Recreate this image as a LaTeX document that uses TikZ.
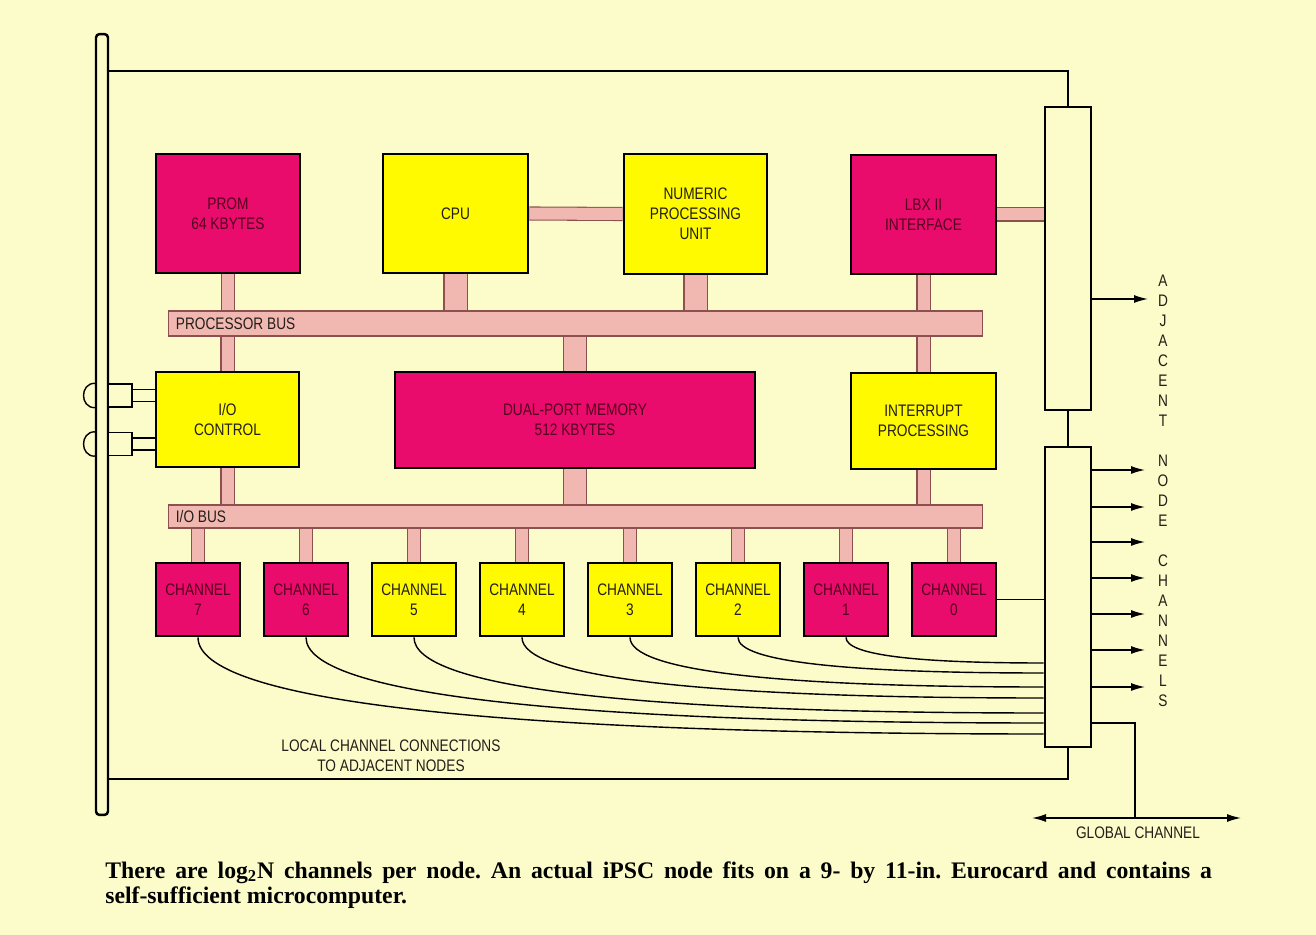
\documentclass[tikz,border=0pt]{standalone}
\usepackage{fontspec}
\setmainfont{Liberation Serif}
\newfontfamily\cond[FakeStretch=0.82]{Liberation Sans}
\usetikzlibrary{arrows.meta,backgrounds,calc}

\definecolor{paper}{RGB}{252,252,202}
\definecolor{magbox}{RGB}{234,12,108}
\definecolor{yelbox}{RGB}{255,250,0}
\definecolor{busfill}{RGB}{241,184,178}
\definecolor{busline}{RGB}{140,80,80}
\definecolor{magtext}{RGB}{85,0,30}
\definecolor{ink}{RGB}{35,30,25}

\tikzset{
  unit/.style={draw=black, line width=1.6pt, inner sep=0pt, align=center,
    font=\cond\fontsize{9.5}{11.4}\selectfont},
  magunit/.style={unit, fill=magbox, text=magtext},
  yelunit/.style={unit, fill=yelbox, text=ink},
  bus/.style={draw=busline, line width=0.6pt, fill=busfill, inner sep=0pt},
  stub/.style={draw=busline, line width=0.6pt, double=busfill, double distance=#1},
  stub/.default=0.24cm,
  conn/.style={draw=black, line width=1.6pt, fill=paper, inner sep=0pt},
  board/.style={line width=1.6pt},
  wire/.style={line width=0.8pt},
  lbl/.style={font=\cond\fontsize{9.5}{11.4}\selectfont, text=ink, inner sep=0pt, align=center},
  >={Latex[length=2.8mm,width=1.6mm]},
}

\begin{document}
\begin{tikzpicture}[x=0.02cm, y=-0.02cm]
	\useasboundingbox (0,0) rectangle (1316,935);
	\begin{scope}[on background layer]
		\fill[paper] (0,0) rectangle (1316,935);
	\end{scope}

	% front panel and connectors
	\node[draw, line width=1.4pt, rounded corners=2pt, fill=paper, inner sep=0pt,
		minimum width=0.24cm, minimum height=15.62cm] (panel) at (102,424.5) {};
	\node[conn, minimum width=0.92cm, minimum height=6.06cm] (upbox) at (1068,258.5) {};
	\node[conn, minimum width=0.92cm, minimum height=6cm] (lowbox) at (1068,597) {};

	% processor section
	\node[magunit, minimum width=2.88cm, minimum height=2.38cm] (prom) at (228,213.5) {PROM\\64 KBYTES};
	\node[yelunit, minimum width=2.9cm, minimum height=2.38cm] (cpu) at (455.5,213.5) {CPU};
	\node[yelunit, minimum width=2.86cm, minimum height=2.4cm] (npu) at (695.5,214) {NUMERIC\\PROCESSING\\UNIT};
	\node[magunit, minimum width=2.9cm, minimum height=2.38cm] (lbx) at (923.5,214.5) {LBX II\\INTERFACE};
	\node[bus, minimum width=16.3cm, minimum height=0.5cm] (pbus) at (575.5,323.5) {};
	\node[lbl, anchor=west] (pbuslab) at ([xshift=0.16cm]pbus.west) {PROCESSOR BUS};

	\node[yelunit, minimum width=2.86cm, minimum height=1.9cm] (io) at (227.5,419.5) {I/O\\CONTROL};
	\node[magunit, minimum width=7.2cm, minimum height=1.92cm] (mem) at (575,420) {DUAL-PORT MEMORY\\512 KBYTES};
	\node[yelunit, minimum width=2.9cm, minimum height=1.92cm] (irq) at (923.5,421) {INTERRUPT\\PROCESSING};
	\node[bus, minimum width=16.3cm, minimum height=0.46cm] (iobus) at (575.5,516.5) {};
	\node[lbl, anchor=west] (iobuslab) at ([xshift=0.16cm]iobus.west) {I/O BUS};

	% channels
	\foreach \c/\kind in {7/magunit,6/magunit,5/yelunit,4/yelunit,3/yelunit,2/yelunit,1/magunit,0/magunit}
		\node[\kind, minimum width=1.68cm, minimum height=1.46cm] (ch\c) at ({954-108*\c},599.5) {CHANNEL\\\c};

	% bus stubs
	\begin{scope}[on background layer]
		\draw[stub] (prom.south) -- (prom.south |- pbus.north);
		\draw[stub=0.44cm] (cpu.south) -- (cpu.south |- pbus.north);
		\draw[stub=0.44cm] (npu.south) -- (npu.south |- pbus.north);
		\draw[stub] (lbx.south) -- (lbx.south |- pbus.north);
		\draw[stub] (io.north) -- (io.north |- pbus.south);
		\draw[stub=0.44cm] (mem.north) -- (mem.north |- pbus.south);
		\draw[stub] (irq.north) -- (irq.north |- pbus.south);
		\draw[stub] (io.south) -- (io.south |- iobus.north);
		\draw[stub=0.44cm] (mem.south) -- (mem.south |- iobus.north);
		\draw[stub] (irq.south) -- (irq.south |- iobus.north);
		\draw[stub] (cpu.east) -- (npu.west);
		\draw[stub] (lbx.east) -- (upbox.west |- lbx.east);
		\foreach \c in {0,...,7}
			\draw[stub] (ch\c.north) -- (ch\c.north |- iobus.south);
	\end{scope}

	% board outline
	\draw[board] (panel.east |- 0,71) -- (upbox.north |- 0,71) -- (upbox.north);
	\draw[board] (upbox.south) -- (lowbox.north);
	\draw[board] (lowbox.south) -- (lowbox.south |- 0,779) -- (panel.east |- 0,779);

	% I/O jacks
	\foreach \j/\y in {1/395.5,2/444} {
		\node[draw, line width=0.8pt, fill=paper, inner sep=0pt, minimum width=0.48cm,
			minimum height=0.46cm] (jack\j) at (120,\y) {};
		\draw[wire] (panel.west |- jack\j.north) .. controls +(-15,0) and +(-15,0) .. (panel.west |- jack\j.south);
		\path (jack\j.east) ++(0,-6) coordinate (j\j a) (jack\j.east) ++(0,6) coordinate (j\j b);
		\draw[wire] (j\j a) -- (j\j a -| io.west);
		\draw[wire] (j\j b) -- (j\j b -| io.west);
	}

	% local channel connections
	\draw[wire] (ch0.east) -- (lowbox.west |- ch0.east);
	\foreach \c/\yk in {1/663,2/673,3/687,4/698,5/713,6/723,7/734} {
		\pgfmathsetmacro\dy{0.65*(\yk-636)}
		\pgfmathsetmacro\dx{-0.65*(91+108*\c)}
		\draw[wire] (ch\c.south) .. controls +(0,\dy) and +(\dx,0) .. (lowbox.west |- 0,\yk);
	}
	\node[lbl] (loclab) at (391,756) {LOCAL CHANNEL CONNECTIONS\\TO ADJACENT NODES};

	% node channels
	\coordinate (adj) at (1148,299);
	\draw[wire, ->] (upbox.east |- adj) -- (adj);
	\foreach \y [count=\i] in {470,507,542,578,614,650,687} {
		\coordinate (nc\i) at (1145,\y);
		\draw[wire, ->] (lowbox.east |- nc\i) -- (nc\i);
	}
	\node[lbl] (chanlab) at (1163,491)
		{A\\D\\J\\A\\C\\E\\N\\T\\[11.4pt]N\\O\\D\\E\\[11.4pt]C\\H\\A\\N\\N\\E\\L\\S};

	% global channel
	\coordinate (gl) at (1032,818);
	\coordinate (gr) at (1241,818);
	\draw[wire, <->] (gl) -- (gr);
	\draw[wire] ([yshift=-2.52cm]lowbox.east) -| (gl -| 1135,0);
	\node[lbl] (globlab) at (1138,833) {GLOBAL CHANNEL};

	% caption
	\node[anchor=north west, inner sep=0pt, text width=22.14cm, align=justify,
		font=\bfseries\fontsize{13.5}{14.2}\selectfont\frenchspacing] (caption) at (105,861)
		{There are log\textsubscript{2}N channels per node. An actual iPSC node fits on a 9- by 11-in. Eurocard and contains a\linebreak self-sufficient microcomputer.};
\end{tikzpicture}
\end{document}
